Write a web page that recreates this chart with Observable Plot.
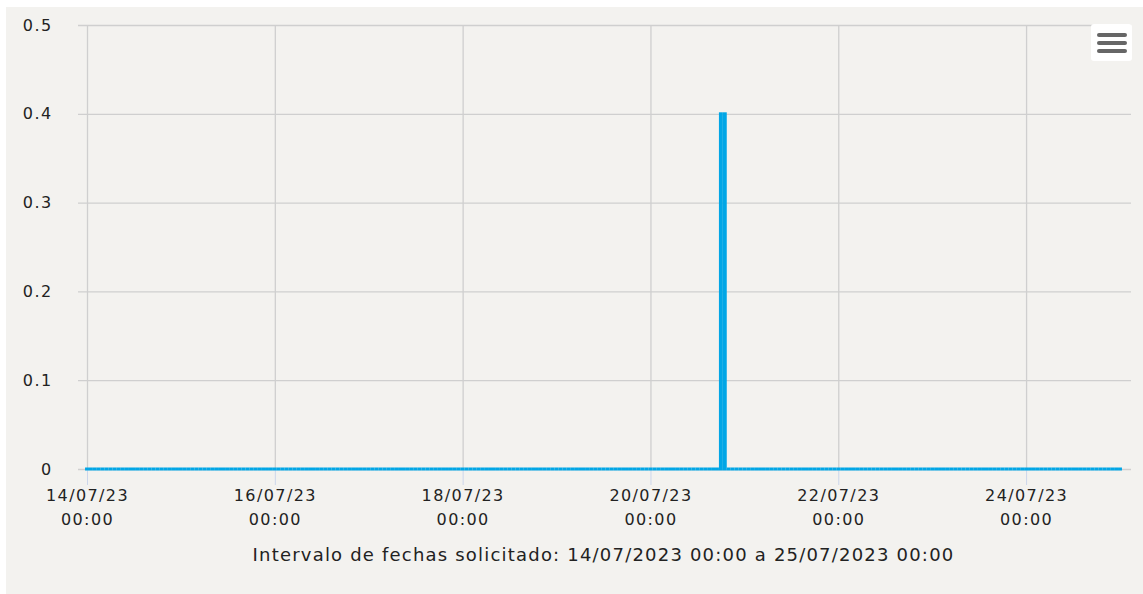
<!DOCTYPE html>
<html>
<head>
<meta charset="utf-8">
<script src="https://cdn.jsdelivr.net/npm/d3@7"></script>
<script src="https://cdn.jsdelivr.net/npm/@observablehq/plot@0.6"></script>
<style>
  html, body { margin: 0; padding: 0; background: #ffffff; }
  #panel { position: absolute; left: 6px; top: 7px; width: 1137px; height: 587px; background: #f3f2ef; overflow: hidden; }
  #chart { position: absolute; left: 0; top: 0; }
  #caption { position: absolute; left: 81px; width: 1033px; top: 537px; text-align: center;
             font-family: "DejaVu Sans", sans-serif; font-size: 18px; color: #222; letter-spacing: 1.2px; }
  #menu { position: absolute; left: 1085px; top: 17px; width: 41px; height: 37px; background: #ffffff; border-radius: 3px; }
  #menu span { position: absolute; left: 6px; width: 30px; height: 4px; border-radius: 2px; background: #666666; }
</style>
</head>
<body>
<div id="panel">
  <div id="chart"></div>
  <div id="caption"></div>
  <div id="menu"><span style="top:9px"></span><span style="top:17px"></span><span style="top:25px"></span></div>
</div>
<script>
// Hourly series, 14/07/2023 00:00 -> 25/07/2023 00:00 (one row per day)
const seriesStart = "2023-07-14T00:00:00Z";
const hourlyValues = [
  /*14/07*/ 0,0,0,0,0,0,0,0,0,0,0,0,0,0,0,0,0,0,0,0,0,0,0,0,
  /*15/07*/ 0,0,0,0,0,0,0,0,0,0,0,0,0,0,0,0,0,0,0,0,0,0,0,0,
  /*16/07*/ 0,0,0,0,0,0,0,0,0,0,0,0,0,0,0,0,0,0,0,0,0,0,0,0,
  /*17/07*/ 0,0,0,0,0,0,0,0,0,0,0,0,0,0,0,0,0,0,0,0,0,0,0,0,
  /*18/07*/ 0,0,0,0,0,0,0,0,0,0,0,0,0,0,0,0,0,0,0,0,0,0,0,0,
  /*19/07*/ 0,0,0,0,0,0,0,0,0,0,0,0,0,0,0,0,0,0,0,0,0,0,0,0,
  /*20/07*/ 0,0,0,0,0,0,0,0,0,0,0,0,0,0,0,0,0,0,0.4,0.4,0,0,0,0,
  /*21/07*/ 0,0,0,0,0,0,0,0,0,0,0,0,0,0,0,0,0,0,0,0,0,0,0,0,
  /*22/07*/ 0,0,0,0,0,0,0,0,0,0,0,0,0,0,0,0,0,0,0,0,0,0,0,0,
  /*23/07*/ 0,0,0,0,0,0,0,0,0,0,0,0,0,0,0,0,0,0,0,0,0,0,0,0,
  /*24/07*/ 0,0,0,0,0,0,0,0,0,0,0,0,0,0,0,0,0,0,0,0,0,0,0,0,
  /*25/07*/ 0
];
const xDomain = ["2023-07-14T00:00:00Z", "2023-07-25T00:00:00Z"];
const xTicks = ["2023-07-14T00:00:00Z", "2023-07-16T00:00:00Z", "2023-07-18T00:00:00Z",
                "2023-07-20T00:00:00Z", "2023-07-22T00:00:00Z", "2023-07-24T00:00:00Z"];
const xTickLabels = ["14/07/23\n00:00", "16/07/23\n00:00", "18/07/23\n00:00",
                     "20/07/23\n00:00", "22/07/23\n00:00", "24/07/23\n00:00"];
const yTicks = [0, 0.1, 0.2, 0.3, 0.4, 0.5];
const yTickLabels = ["0", "0.1", "0.2", "0.3", "0.4", "0.5"];
const captionText = "Intervalo de fechas solicitado: 14/07/2023 00:00 a 25/07/2023 00:00";

const t0 = new Date(seriesStart);
const data = hourlyValues.map((v, i) => ({t: d3.utcHour.offset(t0, i), v}));
const tickDates = xTicks.map(d => new Date(d));
const labelOf = new Map(tickDates.map((d, i) => [+d, xTickLabels[i]]));
const yLabelOf = new Map(yTicks.map((d, i) => [d, yTickLabels[i]]));

const blue = "#01a6e6";
const grid = "#cfcfcf";

const chart = Plot.plot({
  width: 1137,
  height: 530,
  marginLeft: 81,
  marginRight: 23,
  marginTop: 18,
  marginBottom: 68,
  style: {background: "transparent", fontFamily: "DejaVu Sans, sans-serif", fontSize: "16px", color: "#222", letterSpacing: "1.4px"},
  x: {type: "utc", domain: xDomain.map(d => new Date(d)), label: null},
  y: {domain: [0, 0.5], label: null},
  marks: [
    Plot.ruleY(yTicks, {stroke: grid, strokeWidth: 1.3, insetLeft: -9, insetRight: -11}),
    Plot.ruleX(tickDates, {y1: 0, y2: 0.5, stroke: grid, strokeWidth: 1.3}),
    Plot.axisX(tickDates, {tickSize: 16, stroke: "#ccd6eb", tickFormat: () => "", label: null}),
    Plot.rect(data, {
      x1: d => d3.utcMinute.offset(d.t, -30),
      x2: d => d3.utcMinute.offset(d.t, 30),
      y1: 0, y2: "v", fill: blue, insetTop: -1.5, insetBottom: -1.5
    }),
    Plot.axisX(tickDates, {tickSize: 0, tickPadding: 14, tickFormat: d => labelOf.get(+d), lineHeight: 1.5, fontSize: 16, label: null}),
    Plot.axisY(yTicks, {tickSize: 0, tickPadding: 35, tickFormat: d => yLabelOf.get(d), fontSize: 16, label: null})
  ]
});
document.getElementById("chart").appendChild(chart);
document.getElementById("caption").textContent = captionText;
</script>
</body>
</html>
